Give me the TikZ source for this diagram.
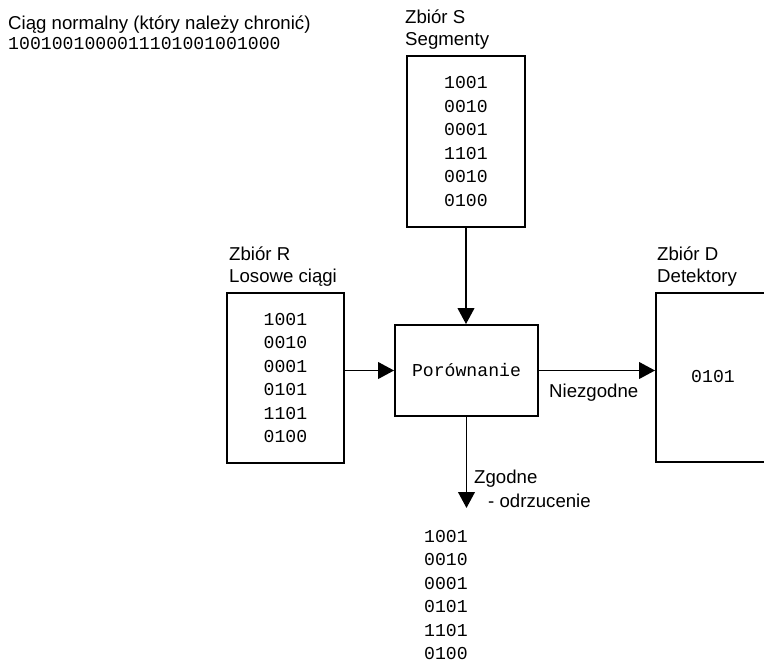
\documentclass[tikz,border=0pt]{standalone}
\usepackage{fontspec}
\setmainfont{Liberation Sans}
\newfontfamily\bitfont{Liberation Mono}
\usetikzlibrary{arrows.meta}
\tikzset{
  setbox/.style={draw, line width=1.6pt, inner sep=0pt, align=center, font=\bitfont\fontsize{15.5}{20}\selectfont},
  bits/.style={inner sep=0pt, align=center, font=\bitfont\fontsize{15.5}{20}\selectfont},
  lbl/.style={inner sep=0pt, anchor=base west, font=\fontsize{15.9}{18}\selectfont},
  flow/.style={-{Triangle[length=4.8mm,width=5mm]}, line width=1.6pt},
}

\begin{document}
\begin{tikzpicture}[x=0.3mm,y=-0.3mm]
  \useasboundingbox (0,0) rectangle (764,663);
  \clip (0,0) rectangle (764,663);
  % protected sequence
  \node[lbl] (title) at (8,29) {Ciąg normalny (który należy chronić)};
  \node[bits, anchor=base west] (seq) at (8,49) {1001001000011101001001000};
  % set S
  \node[lbl] (sname) at (405,23) {Zbiór S};
  \node[lbl] (sdesc) at (405,45) {Segmenty};
  \node[setbox, minimum width=3.54cm, minimum height=5.13cm] (S) at (466,141.5)
    {1001\\0010\\0001\\1101\\0010\\0100};
  % set R
  \node[lbl] (rname) at (229,260) {Zbiór R};
  \node[lbl] (rdesc) at (229,282) {Losowe ciągi};
  \node[setbox, minimum width=3.51cm, minimum height=5.10cm] (R) at (285.5,378)
    {1001\\0010\\0001\\0101\\1101\\0100};
  % comparison
  \node[setbox, minimum width=4.29cm, minimum height=2.73cm] (P) at (466.5,370.5) {Porównanie};
  % set D (cut off by the right margin)
  \node[lbl] (dname) at (657,260) {Zbiór D};
  \node[lbl] (ddesc) at (657,282) {Detektory};
  \node[setbox, minimum width=4.02cm, minimum height=5.07cm] (D) at (723,377.5) {};
  \node[bits] (det) at (713,377) {0101};
  % arrows
  \draw[flow] (S.south) -- (S.south |- P.north);
  \draw[flow] (R.east |- P.west) -- (P.west);
  \draw[flow] (P.east) -- (P.east -| D.west);
  \coordinate (drop) at (466.5,508);
  \draw[flow] (P.south) -- (drop);
  \node[lbl, anchor=west] (nz) at (549,393) {Niezgodne};
  \node[lbl, anchor=west] (zg) at (474,479) {Zgodne};
  \node[lbl, anchor=west] (odrz) at (488,501) {- odrzucenie};
  \node[bits] (rejected) at (446,595) {1001\\0010\\0001\\0101\\1101\\0100};
\end{tikzpicture}
\end{document}
